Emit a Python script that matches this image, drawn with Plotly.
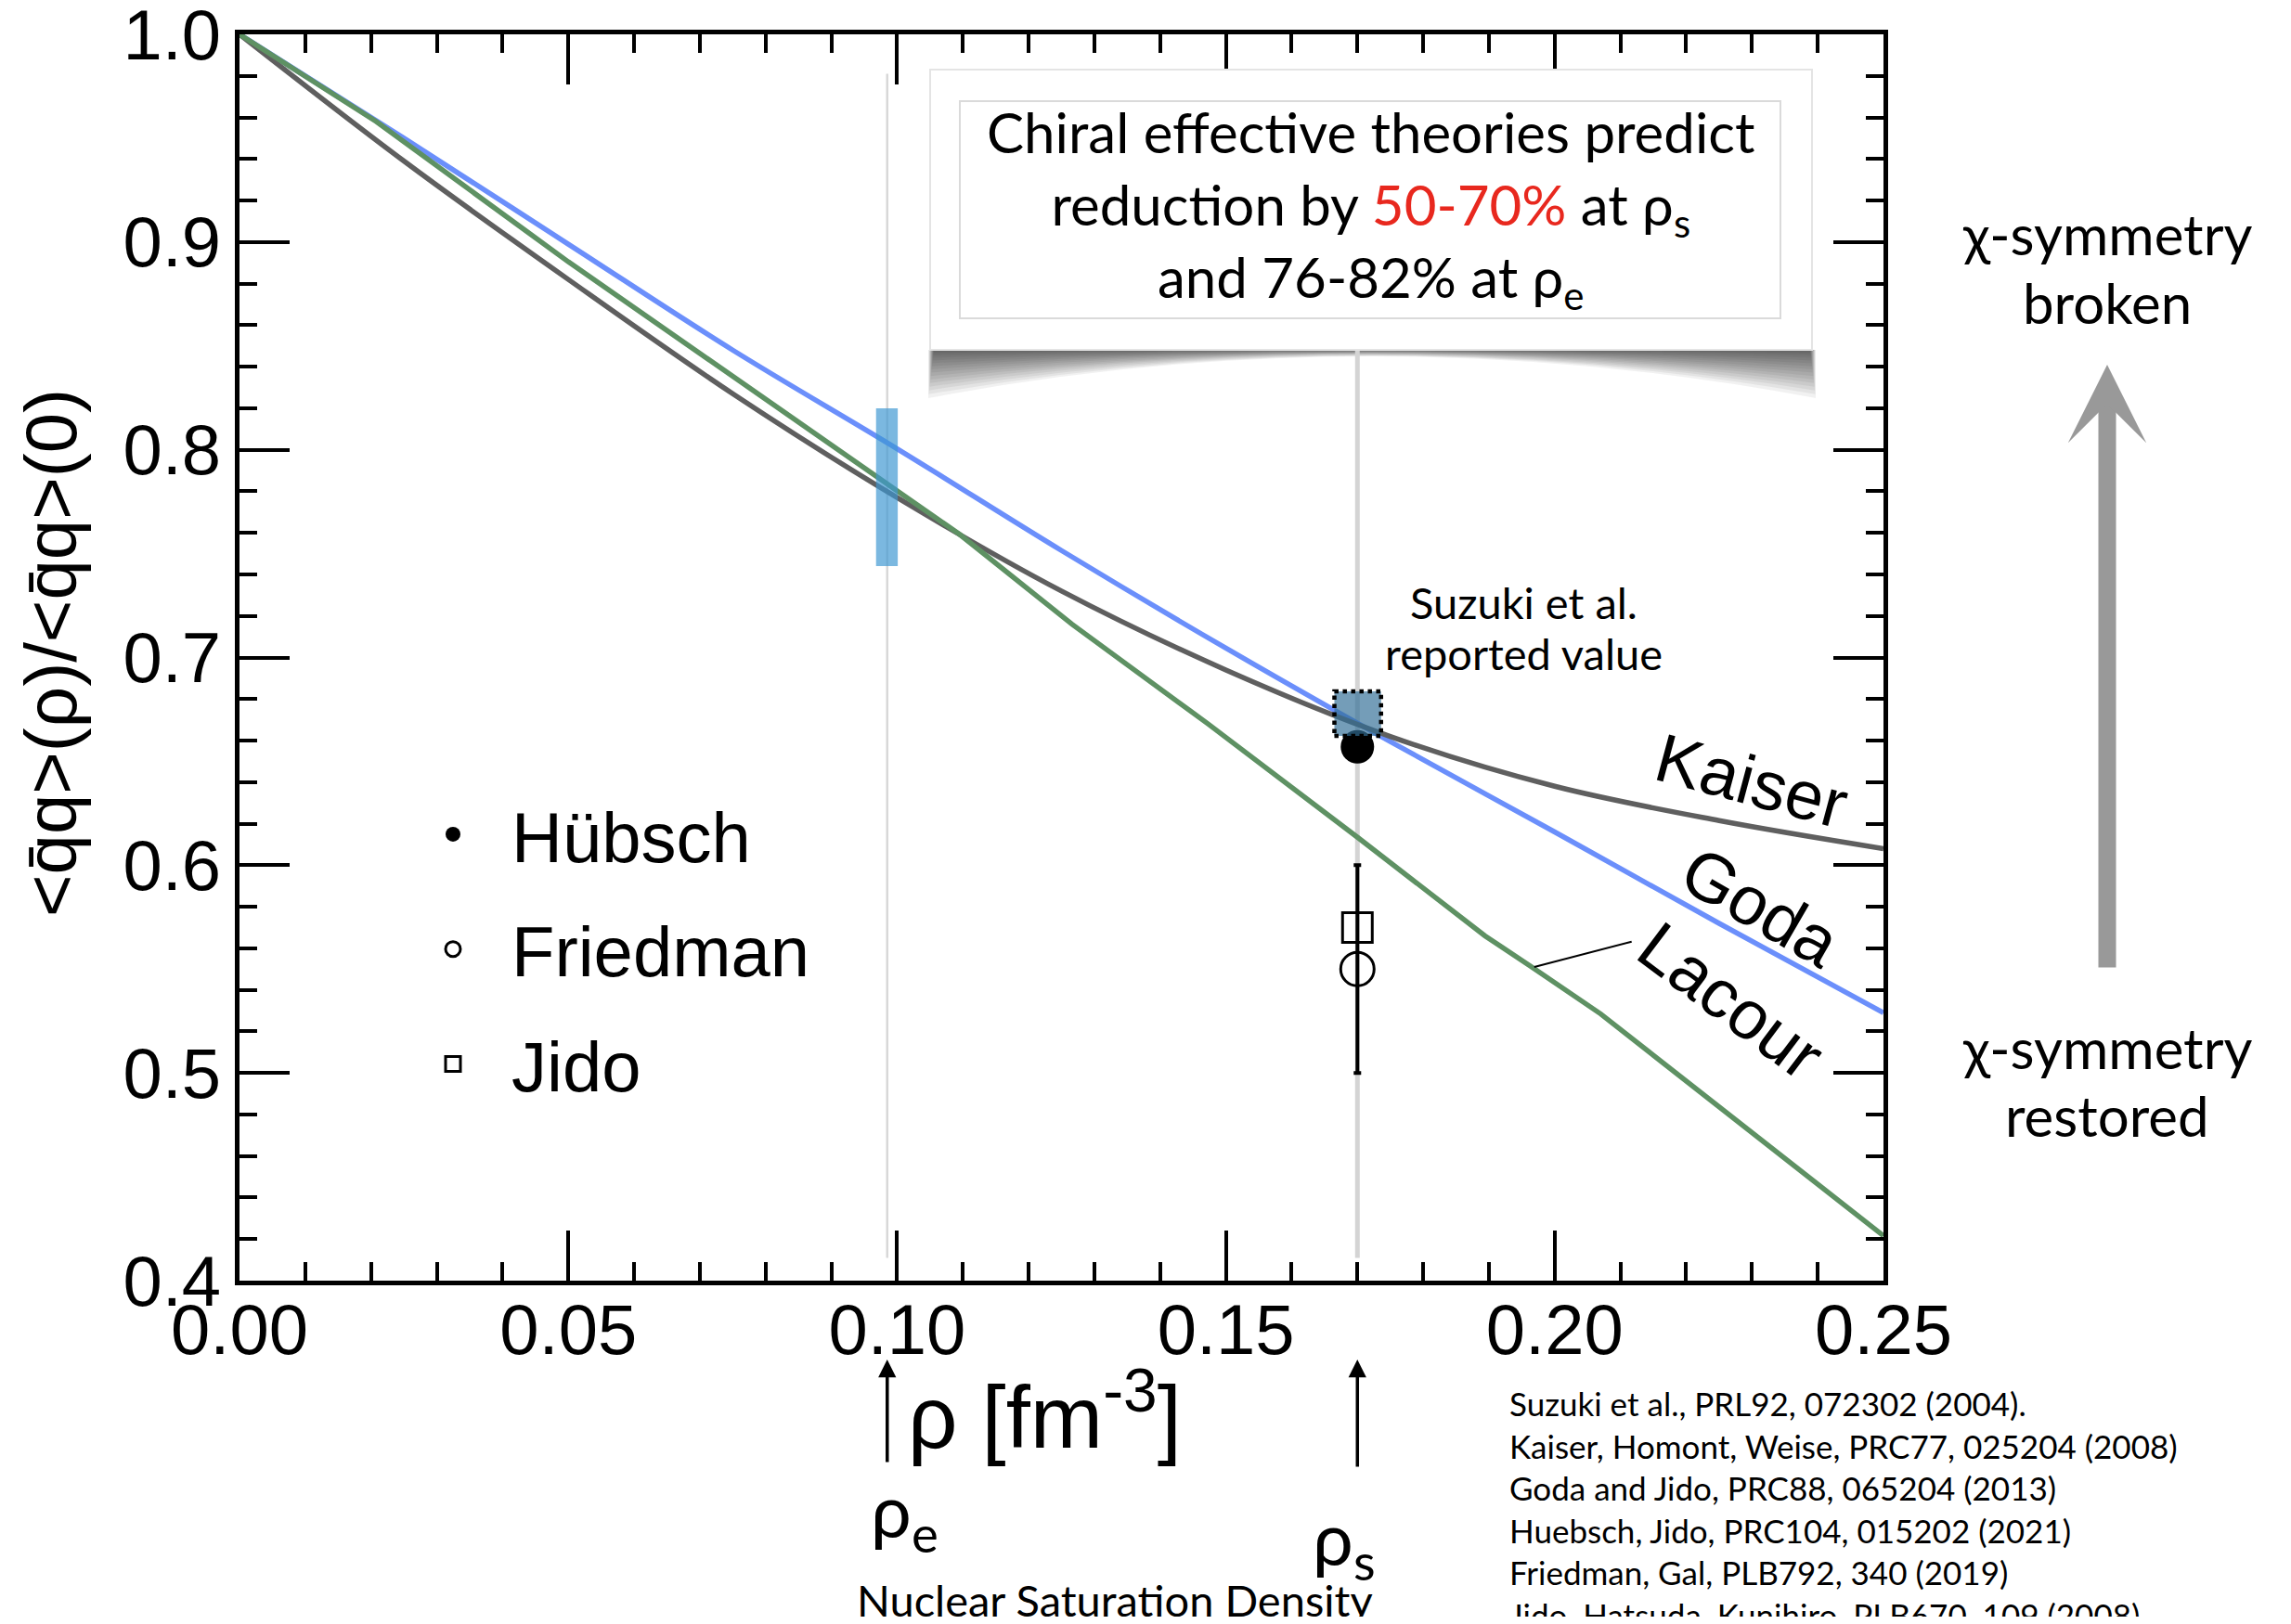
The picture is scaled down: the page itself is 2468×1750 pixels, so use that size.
import plotly.graph_objects as go

# ---------------- data ----------------
rho_grid = [0.0, 0.025, 0.05, 0.075, 0.10, 0.125, 0.15, 0.175, 0.20, 0.225, 0.25]
kaiser = [1.000, 0.939, 0.882, 0.827, 0.777, 0.732, 0.694, 0.662, 0.638, 0.6215, 0.608]
goda = [1.000, 0.950, 0.899, 0.848, 0.8005, 0.7515, 0.7045, 0.6595, 0.616, 0.572, 0.529]

lacour_rho = [0.0, 0.0208, 0.05, 0.0819, 0.0906, 0.1095, 0.1266, 0.1473, 0.1702, 0.1894, 0.1965, 0.207, 0.25]
lacour = [1.000, 0.958, 0.8905, 0.8204, 0.8013, 0.7593, 0.716, 0.668, 0.613, 0.566, 0.551, 0.5284, 0.4216]

rho_s = 0.17
rho_e = 0.0985
hubsch_val = [0.657]
friedman_val = [0.550]
friedman_err = [0.05]
jido_val = [0.570]
suzuki_val = 0.673
suzuki_err = 0.0107
rho_e_band = [0.744, 0.820]

x_ticks = [0.0, 0.05, 0.10, 0.15, 0.20, 0.25]
y_ticks = [0.4, 0.5, 0.6, 0.7, 0.8, 0.9, 1.0]

# ---------------- geometry helpers (window pixel -> paper) ----------------
WIN_W, WIN_H = 2468, 1750
OFF = 8  # default body margin of the html page
FIG_W, FIG_H = WIN_W - 2 * OFF, WIN_H - 2 * OFF
L, R, T, B = 258, 2029, 37, 1380  # plot area in window pixels
PW, PH = R - L, B - T


def px(X):
    return (X - L) / PW


def py(Y):
    return (B - Y) / PH


AX_FONT = "Liberation Sans, Arial, sans-serif"
HUM_FONT = "Lato, Open Sans, sans-serif"

fig = go.Figure()

fig.add_trace(go.Scatter(x=rho_grid, y=goda, mode="lines", line=dict(color="#6b8ffb", width=5.5, shape="spline"),
                         showlegend=False, hoverinfo="skip"))
fig.add_trace(go.Scatter(x=rho_grid, y=kaiser, mode="lines", line=dict(color="#5f5f5f", width=5.5, shape="spline"),
                         showlegend=False, hoverinfo="skip"))
fig.add_trace(go.Scatter(x=lacour_rho, y=lacour, mode="lines", line=dict(color="#5e9163", width=5.5),
                         showlegend=False, hoverinfo="skip"))

fig.add_trace(go.Scatter(x=[rho_s], y=hubsch_val, mode="markers", name="Hübsch", legendgroup="a",
                         marker=dict(symbol="circle", size=36, color="black")))
fig.add_trace(go.Scatter(x=[rho_s], y=friedman_val, mode="markers", name="Friedman", legendgroup="b",
                         marker=dict(symbol="circle-open", size=36, color="black", line=dict(width=3)),
                         error_y=dict(type="data", array=friedman_err, thickness=4, width=4, color="black")))
fig.add_trace(go.Scatter(x=[rho_s], y=jido_val, mode="markers", name="Jido", legendgroup="c",
                         marker=dict(symbol="square-open", size=32, color="black", line=dict(width=3))))

shapes = []
# vertical density guide line at rho_e
shapes.append(dict(type="line", xref="x", yref="y", x0=rho_e, x1=rho_e, y0=0.411, y1=0.981,
                   line=dict(color="#d8d8d8", width=2.5), layer="below"))
# shadow of the text box (curled-corner look)
n_sh = 16
for k in range(n_sh):
    f = ((k + 1) / n_sh) ** 1.3
    xl, xr, yb = 1000 + 6 * (1 - f), 1956 - 6 * (1 - f), 377
    d_end = 52 * f
    d_mid = 7 * f
    ctrl = yb + 2 * d_mid - d_end
    path = (f"M {px(xl)},{py(yb)} L {px(xl)},{py(yb + d_end)} "
            f"Q {px((xl + xr) / 2)},{py(ctrl)} {px(xr)},{py(yb + d_end)} "
            f"L {px(xr)},{py(yb)} Z")
    shapes.append(dict(type="path", xref="paper", yref="paper", path=path,
                       fillcolor="rgba(0,0,0,0.055)", line=dict(width=0), layer="below"))
shapes.append(dict(type="line", xref="x", yref="y", x0=rho_s, x1=rho_s, y0=0.411, y1=0.981,
                   line=dict(color="#d4d4d4", width=5), layer="below"))
# text box
shapes.append(dict(type="rect", xref="paper", yref="paper", x0=px(1002), x1=px(1952), y0=py(377), y1=py(75),
                   fillcolor="white", line=dict(color="#e4e4e4", width=2), layer="above"))
shapes.append(dict(type="rect", xref="paper", yref="paper", x0=px(1034), x1=px(1918), y0=py(343), y1=py(109),
                   fillcolor="rgba(0,0,0,0)", line=dict(color="#dadada", width=2), layer="above"))
# band at rho_e
shapes.append(dict(type="rect", xref="x", yref="y", x0=rho_e - 0.0017, x1=rho_e + 0.0016,
                   y0=rho_e_band[0], y1=rho_e_band[1],
                   fillcolor="rgba(60,150,210,0.68)", line=dict(width=0), layer="above"))
# Suzuki reported value box
shapes.append(dict(type="rect", xref="x", yref="y", x0=rho_s - 0.0035, x1=rho_s + 0.0036,
                   y0=suzuki_val - suzuki_err, y1=suzuki_val + suzuki_err,
                   fillcolor="rgba(50,110,150,0.68)", line=dict(color="black", width=4.5, dash="dot"),
                   layer="above"))
# Lacour leader line
shapes.append(dict(type="line", xref="x", yref="y", x0=0.1969, y0=0.551, x1=0.2117, y1=0.5632,
                   line=dict(color="black", width=2)))

ann = []


def label(X, Y, text, size, family=HUM_FONT, angle=0, color="black"):
    ann.append(dict(x=px(X), y=py(Y), xref="paper", yref="paper", showarrow=False, textangle=angle,
                    xanchor="center", yanchor="middle", align="center", text=text,
                    font=dict(family=family, size=size, color=color)))


# y-axis title
label(55, 704, "&lt;q̄q&gt;(ρ)/&lt;q̄q&gt;(0)", 78, AX_FONT, angle=-90)
# x-axis title
label(1125, 1520, "ρ [fm<sup>-3</sup>]", 94, AX_FONT)
# arrows under the axis
for xr_, tail in [(rho_e, 112), (rho_s, 117)]:
    ann.append(dict(x=xr_, y=py(1465), xref="x", yref="paper", ax=0, ay=tail, text="", showarrow=True,
                    arrowhead=2, arrowsize=1.1, arrowwidth=3.5, arrowcolor="black"))
label(974, 1632, "ρ<sub>e</sub>", 78)
label(1448, 1662, "ρ<sub>s</sub>", 78)
label(1201, 1724, "Nuclear Saturation Density", 47)
# references
refs = ["Suzuki et al., PRL92, 072302 (2004).",
        "Kaiser, Homont, Weise, PRC77, 025204 (2008)",
        "Goda and Jido, PRC88, 065204 (2013)",
        "Huebsch, Jido, PRC104, 015202 (2021)",
        "Friedman, Gal, PLB792, 340 (2019)",
        "Jido, Hatsuda, Kunihiro, PLB670, 109 (2008)"]
ann.append(dict(x=px(1624), y=py(1489), xref="paper", yref="paper", showarrow=False, xanchor="left",
                yanchor="top", align="left", text="<br>".join(refs),
                font=dict(family=HUM_FONT, size=35, color="black")))
# text box content
label(1476, 225, ("Chiral effective theories predict<br>reduction by "
                  "<span style='color:#e8281e'>50-70%</span> at ρ<sub>s</sub><br>"
                  "and 76-82% at ρ<sub>e</sub>"), 60)
# Suzuki label
label(1641, 649, "Suzuki et al.", 47)
label(1641, 704, "reported value", 47)
# curve labels
label(1887, 842, "Kaiser", 74, AX_FONT, angle=15)
label(1897, 977, "Goda", 74, AX_FONT, angle=30)
label(1865, 1078, "Lacour", 74, AX_FONT, angle=37)
# chiral symmetry side labels
label(2270, 252, "χ-symmetry", 60)
label(2270, 326, "broken", 60)
label(2270, 1129, "χ-symmetry", 60)
label(2270, 1202, "restored", 60)
ann.append(dict(x=px(2270), y=py(393), xref="paper", yref="paper", ax=0, ay=651, text="", showarrow=True,
                arrowhead=3, arrowsize=0.74, arrowwidth=19, arrowcolor="#999999"))

axis_common = dict(showline=True, linecolor="black", linewidth=4.5, mirror="ticks", ticks="inside",
                   tickcolor="black", tickwidth=3.5, showgrid=False, zeroline=False,
                   ticklabeloverflow="allow", automargin=False,
                   tickfont=dict(family=AX_FONT, size=76, color="black"))

fig.update_layout(
    width=FIG_W, height=FIG_H,
    margin=dict(l=L - OFF, r=FIG_W - (R - OFF), t=T - OFF, b=FIG_H - (B - OFF), autoexpand=False),
    paper_bgcolor="white", plot_bgcolor="white",
    xaxis=dict(range=[0, 0.25], tickvals=x_ticks, tickformat=".2f", ticklen=54,
               minor=dict(dtick=0.01, ticklen=20, tickwidth=3.5, tickcolor="black", ticks="inside"),
               ticklabelstandoff=-17, **axis_common),
    yaxis=dict(range=[0.4, 1.0], tickvals=y_ticks, tickformat=".1f", ticklen=54,
               minor=dict(dtick=0.02, ticklen=19, tickwidth=3.5, tickcolor="black", ticks="inside"),
               ticklabelstandoff=0, **axis_common),
    legend=dict(x=px(425), y=py(843), xanchor="left", yanchor="top", bgcolor="rgba(0,0,0,0)",
                font=dict(family=AX_FONT, size=76, color="black"), itemwidth=116,
                traceorder="grouped", tracegroupgap=22),
    shapes=shapes, annotations=ann, showlegend=True,
)

fig.write_html("out.html")
